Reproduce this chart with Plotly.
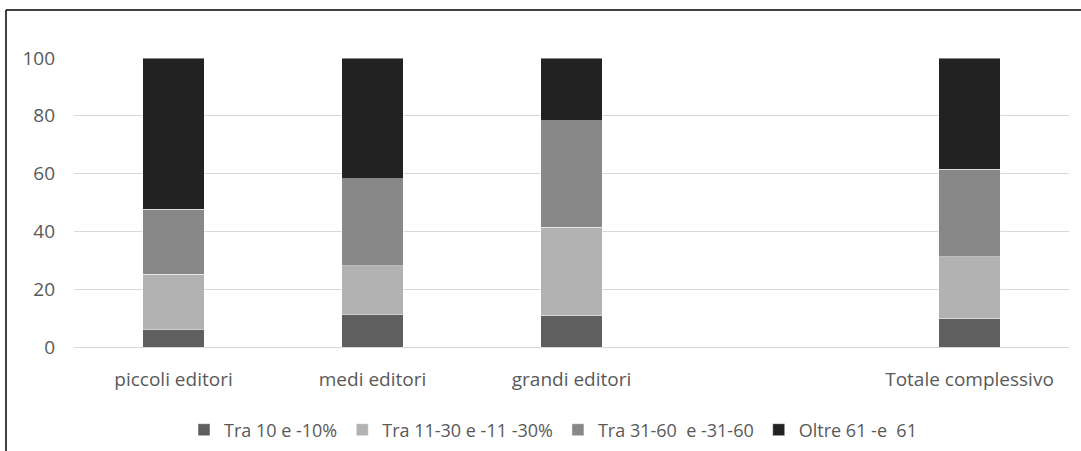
import plotly.graph_objects as go

# Categories (an empty slot separates the total from the groups)
categories = ["piccoli editori", "medi editori", "grandi editori", " ", "Totale complessivo"]

# Stacked shares (%) per category
tra_10 = [6.1, 11.4, 10.9, None, 9.7]
tra_11_30 = [19.0, 16.8, 30.6, None, 21.6]
tra_31_60 = [22.6, 30.1, 36.8, None, 30.2]
oltre_61 = [52.3, 41.7, 21.7, None, 38.5]

series_names = ["Tra 10 e -10%", "Tra 11-30 e -11 -30%", "Tra 31-60  e -31-60", "Oltre 61 -e  61"]
series_values = [tra_10, tra_11_30, tra_31_60, oltre_61]
series_colors = ["#5f5f5f", "#b2b2b2", "#888888", "#222222"]

y_ticks = [0, 20, 40, 60, 80, 100]

FONT = "'Open Sans', Lato, sans-serif"
TEXT = "#595959"

fig = go.Figure()
for name, vals, color in zip(series_names, series_values, series_colors):
    fig.add_trace(go.Bar(
        x=categories, y=vals, name=name,
        marker=dict(color=color, line=dict(color="rgba(255,255,255,0.45)", width=1)),
        width=0.31,
    ))

W, H = 1081, 451
L, R, T, B = 74, 12, 58, 104
pw, ph = W - L - R, H - T - B

def px_x(p):
    return (p - L) / pw

def px_y(p):
    return (H - B - p) / ph

fig.update_layout(
    width=W, height=H,
    margin=dict(l=L, r=R, t=T, b=B, autoexpand=False),
    barmode="stack",
    plot_bgcolor="white", paper_bgcolor="white",
    font=dict(family=FONT, size=17, color=TEXT),
    showlegend=True,
    legend=dict(
        orientation="h", xref="container", x=553 / W, xanchor="center",
        yref="container", y=1 - 430 / H, yanchor="middle",
        font=dict(size=18, color=TEXT), itemwidth=30, traceorder="normal",
    ),
    xaxis=dict(
        type="category", categoryorder="array", categoryarray=categories,
        showgrid=False, showline=False, ticks="", automargin=False,
        ticklabelstandoff=19, tickfont=dict(size=19, color=TEXT),
    ),
    yaxis=dict(
        range=[0, 100], tickvals=y_ticks, showgrid=True, gridcolor="#d9d9d9", gridwidth=1,
        zeroline=True, zerolinecolor="#d9d9d9", zerolinewidth=1, showline=False, ticks="",
        automargin=False, ticklabelstandoff=18, tickfont=dict(size=19, color=TEXT),
    ),
    shapes=[
        dict(type="line", xref="paper", yref="paper",
             x0=px_x(6), x1=px_x(6), y0=px_y(10), y1=px_y(460),
             line=dict(color="black", width=1.5)),
        dict(type="line", xref="paper", yref="paper",
             x0=px_x(6), x1=px_x(1090), y0=px_y(10), y1=px_y(10),
             line=dict(color="black", width=1.5)),
    ],
)

fig.write_html("out.html")
